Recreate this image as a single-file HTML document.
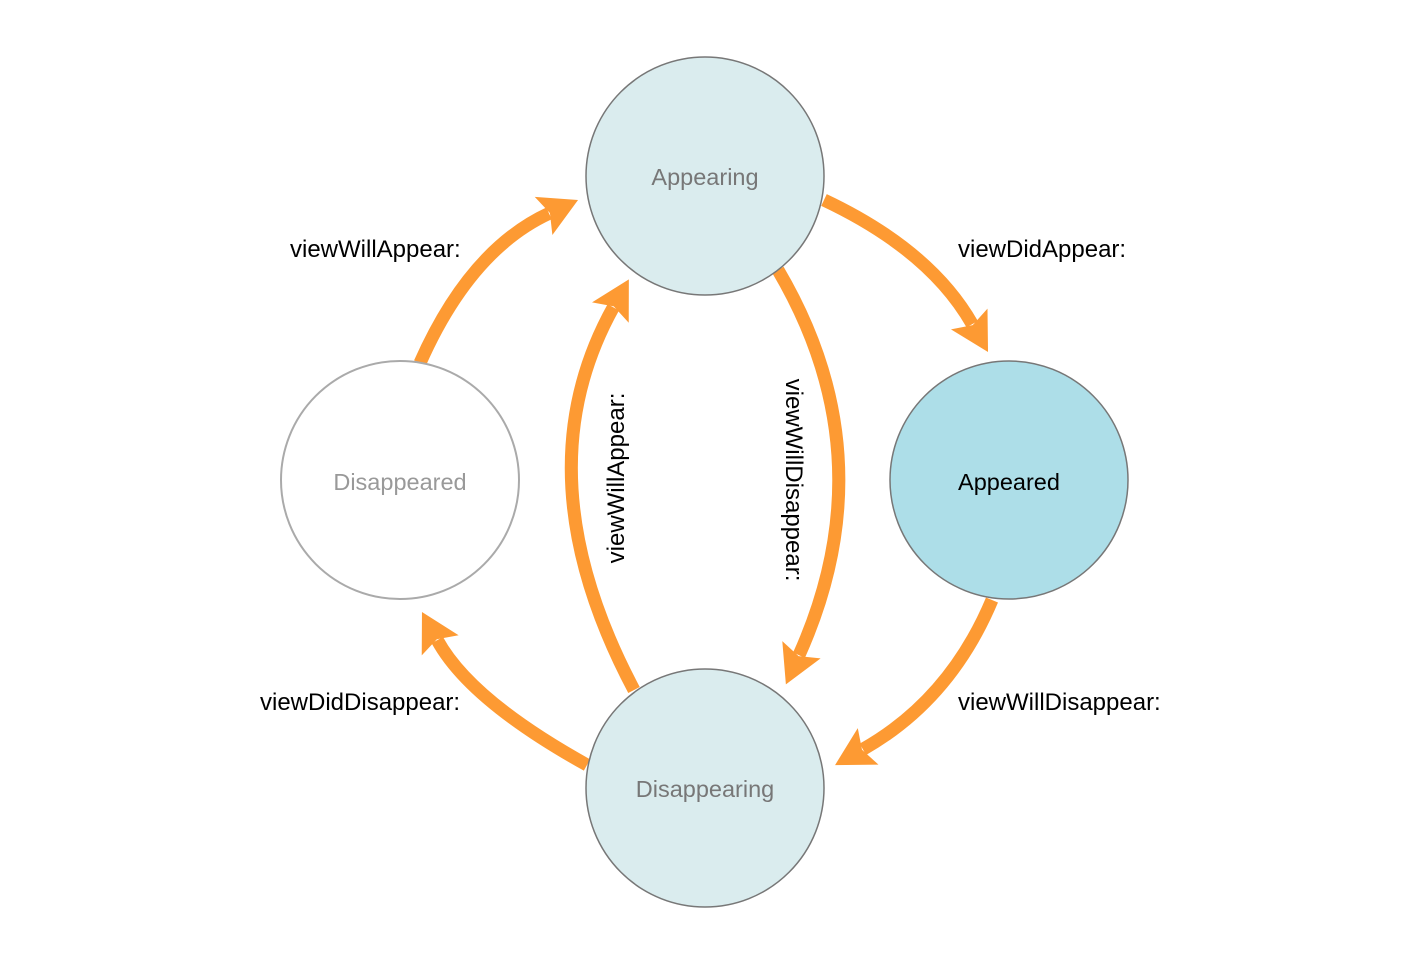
<!DOCTYPE html>
<html><head><style>html,body{margin:0;padding:0;background:#fff}svg{display:block}</style></head>
<body>
<svg width="1418" height="960" viewBox="0 0 1418 960" xmlns="http://www.w3.org/2000/svg" font-family="'Liberation Sans', Arial, sans-serif">
<defs>
<marker id="ah" markerUnits="userSpaceOnUse" markerWidth="60" markerHeight="60" viewBox="-5 -30 60 60" refX="6" refY="0" orient="auto">
<path d="M0,-21 L38,0 L0,21 L7,0 z" fill="#fd9a33"/>
</marker>
</defs>
<g fill="none" stroke="#fd9a33" stroke-width="13" marker-end="url(#ah)">
<path d="M420,363 Q470,250 549,213.4"/>
<path d="M824,200 Q930,250 972.2,324.2"/>
<path d="M778,270 Q888,457 799,655.2"/>
<path d="M634,690 Q520,475 613.3,307.3"/>
<path d="M992,600 Q950,700 862.9,749.3"/>
<path d="M587,765 Q470,700 437.3,640.1"/>
</g>
<circle cx="705" cy="176" r="119" fill="#daecee" stroke="#777" stroke-width="1.5"/>
<circle cx="400" cy="480" r="119" fill="#fff" stroke="#aaa" stroke-width="2"/>
<circle cx="1009" cy="480" r="119" fill="#addee8" stroke="#777" stroke-width="1.5"/>
<circle cx="705" cy="788" r="119" fill="#daecee" stroke="#777" stroke-width="1.5"/>
<g font-size="23.5" text-anchor="middle">
<text x="705" y="185" fill="#777">Appearing</text>
<text x="400" y="490" fill="#999">Disappeared</text>
<text x="1009" y="490" fill="#000">Appeared</text>
<text x="705" y="797" fill="#777">Disappearing</text>
</g>
<g font-size="24" fill="#000">
<text x="290" y="257">viewWillAppear:</text>
<text x="958" y="257">viewDidAppear:</text>
<text x="260" y="710">viewDidDisappear:</text>
<text x="958" y="710">viewWillDisappear:</text>
<text transform="translate(624,478) rotate(-90)" text-anchor="middle">viewWillAppear:</text>
<text transform="translate(786,480) rotate(90)" text-anchor="middle">viewWillDisappear:</text>
</g>
</svg>
</body></html>
